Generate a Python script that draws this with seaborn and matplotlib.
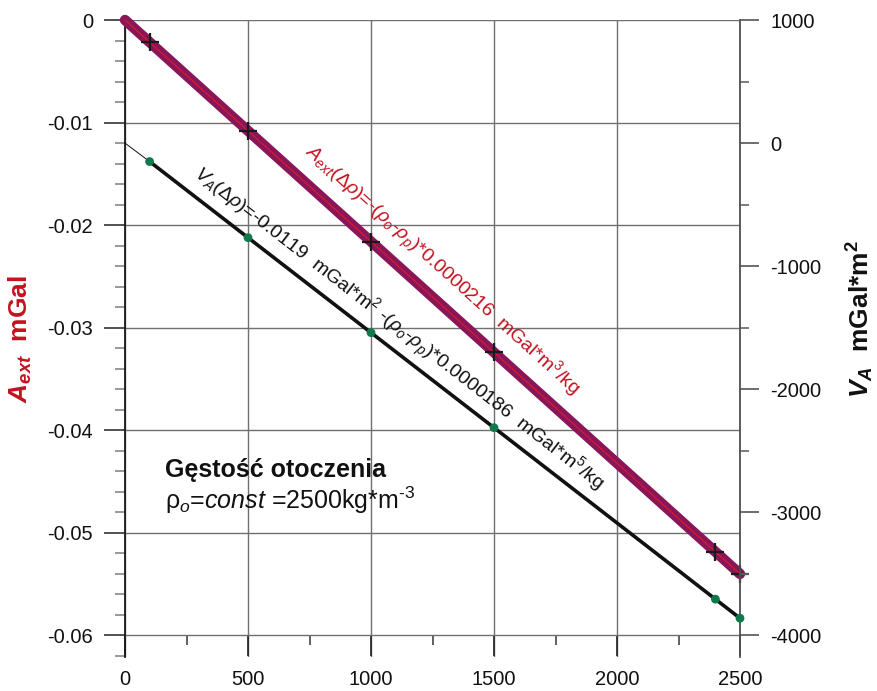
import matplotlib
matplotlib.use("Agg")
import matplotlib.pyplot as plt
import seaborn as sns
from matplotlib.ticker import MultipleLocator

# density contrast (kg/m^3) and the anomaly of the external mass, A_ext (mGal)
drho = [0, 100, 500, 1000, 1500, 2000, 2400, 2500]
a_ext = [0.0, -0.00216, -0.0108, -0.0216, -0.0324, -0.0432, -0.05184, -0.054]
a_mark_drho = [100, 500, 1000, 1500, 2400, 2500]
a_mark_vals = [-0.00216, -0.0108, -0.0216, -0.0324, -0.05184, -0.054]

# potential V_A (mGal*m^2), right-hand axis
va_drho = [0, 100, 500, 1000, 1500, 2400, 2500]
va_vals = [0, -150, -768, -1540, -2312, -3705, -3860]

x_ticks = [0, 500, 1000, 1500, 2000, 2500]
x_labels = ["0", "500", "1000", "1500", "2000", "2500"]
left_ticks = [0.0, -0.01, -0.02, -0.03, -0.04, -0.05, -0.06]
left_labels = ["0", "-0.01", "-0.02", "-0.03", "-0.04", "-0.05", "-0.06"]
right_ticks = [1000, 0, -1000, -2000, -3000, -4000]
right_labels = ["1000", "0", "-1000", "-2000", "-3000", "-4000"]

sns.set_theme(style="white")
plt.rcParams["font.family"] = ["Liberation Sans", "DejaVu Sans"]
plt.rcParams["axes.unicode_minus"] = False
plt.rcParams["mathtext.fontset"] = "custom"
plt.rcParams["mathtext.rm"] = "Liberation Sans"
plt.rcParams["mathtext.it"] = "Liberation Sans:italic"
plt.rcParams["mathtext.bf"] = "Liberation Sans:bold"
plt.rcParams["mathtext.bfit"] = "Liberation Sans:italic:bold"

RED = "#C4121F"
PURPLE = "#8A1558"
GREEN = "#0E7A4C"
GRID = "#707070"

W, H = 877, 691
fig = plt.figure(figsize=(W / 100, H / 100), dpi=100)
ax = fig.add_axes([125 / W, 1 - 657 / H, 615 / W, 637 / H])
ax2 = ax.twinx()

ax.set_xlim(0, 2500)
ax.set_ylim(-0.0621, 0)
ax2.set_ylim(-4175, 1000)

# grid
ax.set_axisbelow(True)
ax.grid(True, which="major", color=GRID, lw=1.0)

# A_ext line: thick purple band with thin red core
sns.lineplot(x=drho, y=a_ext, ax=ax, color=PURPLE, lw=7.5, sort=False,
             estimator=None, solid_capstyle="round", zorder=3, clip_on=False)
sns.lineplot(x=drho, y=a_ext, ax=ax, color="#D81E28", lw=0.8, sort=False,
             estimator=None, zorder=4, clip_on=False)
sns.scatterplot(x=a_mark_drho, y=a_mark_vals, ax=ax, marker="+", s=150,
                color="#1a1a1a", linewidth=1.6, zorder=5, clip_on=False)

# V_A line: thin start, thick body, green measured points
sns.lineplot(x=va_drho[:2], y=va_vals[:2], ax=ax2, color="#111111", lw=0.7,
             sort=False, estimator=None, zorder=3, clip_on=False)
sns.lineplot(x=va_drho[1:], y=va_vals[1:], ax=ax2, color="#111111", lw=2.6,
             sort=False, estimator=None, zorder=3, clip_on=False)
sns.scatterplot(x=va_drho[1:], y=va_vals[1:], ax=ax2, s=40, color=GREEN,
                edgecolor="none", zorder=5, clip_on=False)

# spines
for side in ["top", "right"]:
    ax.spines[side].set_visible(False)
ax.spines["bottom"].set_position(("data", -0.06))
ax.spines["bottom"].set_visible(False)
ax.spines["left"].set_color("#1a1a1a")
ax.spines["left"].set_linewidth(1.3)
for side in ["top", "left", "bottom"]:
    ax2.spines[side].set_visible(False)
ax2.spines["right"].set_color("#505050")
ax2.spines["right"].set_linewidth(1.3)

# ticks
ax.set_xticks(x_ticks, x_labels)
ax.xaxis.set_minor_locator(MultipleLocator(250))
ax.set_yticks(left_ticks, left_labels)
ax.yaxis.set_minor_locator(MultipleLocator(0.002))
ax2.set_yticks(right_ticks, right_labels)
ax2.yaxis.set_minor_locator(MultipleLocator(500))

ax.tick_params(axis="x", which="major", bottom=True, direction="out", length=15,
               width=1.2, color="#222222", pad=10, labelsize=14.5, labelcolor="#111111")
ax.tick_params(axis="x", which="minor", bottom=True, direction="out", length=7,
               width=1.2, color="#444444")
ax.tick_params(axis="y", which="major", left=True, direction="out", length=15,
               width=1.2, color="#333333", pad=8, labelsize=14.5, labelcolor="#111111")
ax.tick_params(axis="y", which="minor", left=True, direction="out", length=7,
               width=1.2, color="#888888")
ax2.tick_params(axis="y", which="major", right=True, direction="out", length=14,
                width=1.2, color="#555555", pad=8, labelsize=14.5, labelcolor="#111111")
ax2.tick_params(axis="y", which="minor", right=True, direction="out", length=6.5,
                width=1.2, color="#666666")

for a in (ax, ax2):
    a.set_xlabel("")

# axis titles
ax.set_ylabel(r"$\mathbfit{A}_{\mathbfit{ext}}$  mGal", color=RED, fontsize=19,
              fontweight="bold")
ax.yaxis.set_label_coords(-0.148, 0.5)
ax2.set_ylabel(r"$\mathbfit{V}_{\mathbfit{A}}$  mGal*m$^{\mathbf{2}}$", color="#111111",
               fontsize=19, fontweight="bold")
ax2.yaxis.set_label_coords(1.17, 0.53)

# formulas along the lines
ax.text(1290, -0.0244,
        r"$A_{ext}(\Delta\rho)$=-($\rho_{o}$-$\rho_{p}$)*0.0000216  mGal*m$^{3}$/kg",
        color=RED, fontsize=14, rotation=-42, rotation_mode="anchor",
        ha="center", va="center", zorder=6)
ax.text(1112, -0.0301,
        r"$V_{A}(\Delta\rho)$=-0.0119  mGal*m$^{2}$ -($\rho_{o}$-$\rho_{p}$)*0.0000186  mGal*m$^{5}$/kg",
        color="#111111", fontsize=14, rotation=-37.8, rotation_mode="anchor",
        ha="center", va="center", zorder=6)

# annotation box
ax.text(163, -0.0446, "Gęstość otoczenia", fontsize=18, fontweight="bold",
        color="#111111", ha="left", va="baseline", zorder=6)
ax.text(163, -0.0477, "ρ$_{o}$=$const$ =2500kg*m$^{\u20103}$", fontsize=18,
        color="#111111", ha="left", va="baseline", zorder=6)

fig.savefig("out.png", dpi=100)
